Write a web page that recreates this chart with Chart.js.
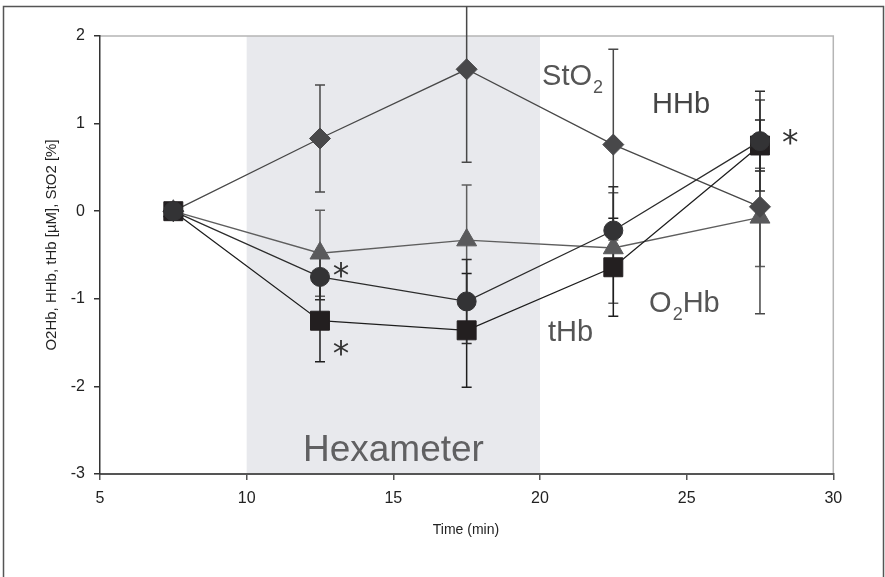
<!DOCTYPE html>
<html>
<head>
<meta charset="utf-8">
<script src="https://cdn.jsdelivr.net/npm/chart.js@4.4.1/dist/chart.umd.min.js"></script>
<style>html,body{margin:0;padding:0;background:#fff}canvas{display:block}</style>
</head>
<body>
<canvas id="c" width="885" height="577"></canvas>
<script>
// sampling times (min)
var times = [7.5, 12.5, 17.5, 22.5, 27.5];

// means and SD per signal
var sto2 = [0, 0.83, 1.62, 0.76, 0.05];
var sto2Sd = [0, 0.61, 1.06, 1.09, 1.22];
var hhb = [0, -0.75, -1.03, -0.22, 0.80];
var hhbSd = [0, 0.26, 0.48, 0.50, 0.57];
var thb = [0, -1.25, -1.36, -0.64, 0.75];
var thbSd = [0, 0.47, 0.65, 0.56, 0.29];
var o2hb = [0, -0.48, -0.33, -0.42, -0.07];
var o2hbSd = [0, 0.49, 0.63, 0.63, 0.56];

// exercise block
var hexStart = 10, hexEnd = 20;

// significance marks [x, y] in axis units
var stars = [[13.22, -0.67], [13.22, -1.56], [28.53, 0.85]];

var xTicks = [5, 10, 15, 20, 25, 30];
var yTicks = [2, 1, 0, -1, -2, -3];

var FONT = '"Liberation Sans", Arial, Helvetica, sans-serif';
var FRAME_TOP = 6.5;

function pts(ys) {
    return times.map(function(t, i) { return { x: t, y: ys[i] }; });
}

function series(label, ys, sd, style, radius, color, lineColor) {
    return {
        label: label,
        data: pts(ys),
        sd: sd,
        borderColor: lineColor,
        borderWidth: 1.3,
        backgroundColor: color,
        pointBackgroundColor: color,
        pointBorderColor: color,
        pointBorderWidth: 1,
        pointStyle: style,
        pointRadius: radius,
        pointHoverRadius: radius,
        tension: 0,
        fill: false,
        errColor: lineColor
    };
}

var backdrop = {
    id: 'backdrop',
    beforeDraw: function(chart) {
        var ctx = chart.ctx, a = chart.chartArea, xs = chart.scales.x;
        ctx.save();
        ctx.fillStyle = '#fff';
        ctx.fillRect(0, 0, chart.width, chart.height);
        var x0 = xs.getPixelForValue(hexStart), x1 = xs.getPixelForValue(hexEnd);
        ctx.fillStyle = '#e8e9ed';
        ctx.fillRect(x0, a.top, x1 - x0, a.bottom - a.top);
        // light frame on top and right of the plot
        ctx.strokeStyle = '#b5b5b5';
        ctx.lineWidth = 1.5;
        ctx.beginPath();
        ctx.moveTo(a.left, a.top);
        ctx.lineTo(a.right, a.top);
        ctx.lineTo(a.right, a.bottom);
        ctx.stroke();
        // figure frame
        ctx.strokeStyle = '#555';
        ctx.lineWidth = 1.5;
        ctx.beginPath();
        ctx.moveTo(3.5, chart.height + 2);
        ctx.lineTo(3.5, FRAME_TOP);
        ctx.lineTo(883.5, FRAME_TOP);
        ctx.lineTo(883.5, chart.height + 2);
        ctx.stroke();
        ctx.restore();
    }
};

var errorBars = {
    id: 'errorBars',
    beforeDatasetsDraw: function(chart) {
        var ctx = chart.ctx, xs = chart.scales.x, ys = chart.scales.y;
        ctx.save();
        ctx.lineWidth = 1.5;
        for (var d = chart.data.datasets.length - 1; d >= 0; d--) {
            var ds = chart.data.datasets[d];
            ctx.strokeStyle = ds.errColor;
            ds.data.forEach(function(p, i) {
                var e = ds.sd[i];
                if (!e) return;
                var px = xs.getPixelForValue(p.x);
                var hi = ys.getPixelForValue(p.y + e);
                var lo = ys.getPixelForValue(p.y - e);
                var cut = hi < FRAME_TOP;
                if (cut) hi = FRAME_TOP;
                ctx.beginPath();
                ctx.moveTo(px, hi); ctx.lineTo(px, lo);
                if (!cut) { ctx.moveTo(px - 5, hi); ctx.lineTo(px + 5, hi); }
                ctx.moveTo(px - 5, lo); ctx.lineTo(px + 5, lo);
                ctx.stroke();
            });
        }
        ctx.restore();
    }
};

function subLabel(ctx, x, y, main, sub, tail, size, color) {
    ctx.fillStyle = color;
    ctx.textBaseline = 'alphabetic';
    ctx.textAlign = 'left';
    ctx.font = size + 'px ' + FONT;
    ctx.fillText(main, x, y);
    x += ctx.measureText(main).width;
    if (sub) {
        var s = Math.round(size * 0.62);
        ctx.font = s + 'px ' + FONT;
        ctx.fillText(sub, x + 1, y + size * 0.28);
        x += ctx.measureText(sub).width + 1;
    }
    if (tail) {
        ctx.font = size + 'px ' + FONT;
        ctx.fillText(tail, x, y);
    }
}

var annotations = {
    id: 'annotations',
    afterDraw: function(chart) {
        var ctx = chart.ctx, xs = chart.scales.x, ys = chart.scales.y;
        function X(v) { return xs.getPixelForValue(v); }
        function Y(v) { return ys.getPixelForValue(v); }
        ctx.save();
        subLabel(ctx, X(20.07), Y(1.44), 'StO', '2', '', 29, '#555');
        subLabel(ctx, X(23.82), Y(1.12), 'HHb', '', '', 29, '#454545');
        subLabel(ctx, X(23.72), Y(-1.15), 'O', '2', 'Hb', 29, '#555');
        subLabel(ctx, X(20.27), Y(-1.48), 'tHb', '', '', 29, '#555');
        subLabel(ctx, X(11.92), Y(-2.85), 'Hexameter', '', '', 37, '#606062');

        // asterisks, centred on their glyph box
        ctx.fillStyle = '#333';
        ctx.font = '33px "DejaVu Sans", sans-serif';
        ctx.textAlign = 'center';
        ctx.textBaseline = 'alphabetic';
        var m = ctx.measureText('*');
        var mid = (m.actualBoundingBoxAscent - m.actualBoundingBoxDescent) / 2;
        stars.forEach(function(s) {
            ctx.fillText('*', X(s[0]), Y(s[1]) + mid);
        });

        // axis titles
        ctx.fillStyle = '#222';
        ctx.font = '14px ' + FONT;
        ctx.textAlign = 'center';
        ctx.textBaseline = 'middle';
        ctx.fillText('Time (min)', 466, 530);
        ctx.font = '15px ' + FONT;
        ctx.translate(52, 245);
        ctx.rotate(-Math.PI / 2);
        ctx.fillText('O2Hb, HHb, tHb [\u00b5M], StO2 [%]', 0, 0);
        ctx.restore();
    }
};

var ctx = document.getElementById('c').getContext('2d');
var chart = new Chart(ctx, {
    type: 'line',
    data: {
        datasets: [
            series('HHb', hhb, hhbSd, 'circle', 9.5, '#333335', '#2c2c2c'),
            series('tHb', thb, thbSd, 'rect', 13.4, '#231f20', '#1e1e1e'),
            series('StO2', sto2, sto2Sd, 'rectRot', 10.5, '#48484a', '#484848'),
            series('O2Hb', o2hb, o2hbSd, 'triangle', 11.5, '#5a5a5c', '#5e5e5e')
        ]
    },
    options: {
        responsive: false,
        animation: false,
        devicePixelRatio: 1,
        layout: { padding: { left: 0, right: 51.7, top: 36, bottom: 0 } },
        plugins: {
            legend: { display: false },
            tooltip: { enabled: false }
        },
        scales: {
            x: {
                type: 'linear',
                min: 5,
                max: 30,
                afterBuildTicks: function(s) { s.ticks = xTicks.map(function(v) { return { value: v }; }); },
                afterFit: function(s) { s.height = 103; },
                grid: { drawOnChartArea: false, drawTicks: true, tickLength: 6, color: '#555', lineWidth: 1.5 },
                border: { color: '#555', width: 2 },
                ticks: { color: '#222', font: { family: FONT, size: 16 }, padding: 9, maxRotation: 0 }
            },
            y: {
                min: -3,
                max: 2,
                afterBuildTicks: function(s) { s.ticks = yTicks.map(function(v) { return { value: v }; }); },
                afterFit: function(s) { s.width = 100; },
                grid: { drawOnChartArea: false, drawTicks: true, tickLength: 6, color: '#333', lineWidth: 1.5 },
                border: { color: '#333', width: 1.5 },
                ticks: { color: '#222', font: { family: FONT, size: 16 }, padding: 9 }
            }
        }
    },
    plugins: [backdrop, errorBars, annotations]
});
</script>
</body>
</html>
